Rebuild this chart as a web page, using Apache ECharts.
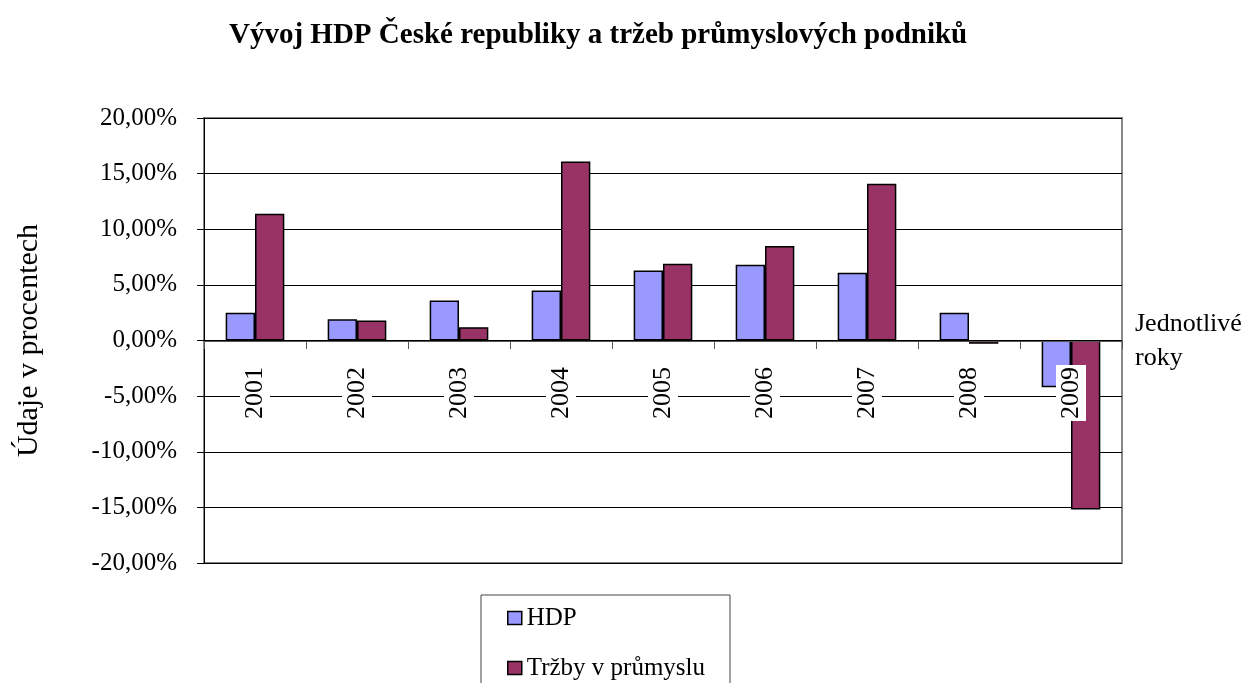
<!DOCTYPE html>
<html>
<head>
<meta charset="utf-8">
<script src="https://cdn.jsdelivr.net/npm/echarts@6/dist/echarts.min.js"></script>
<style>
  html, body { margin: 0; padding: 0; background: #fff; }
  #chart { width: 1257px; height: 683px; }
</style>
</head>
<body>
<div id="chart"></div>
<script>
var roky = ['2001', '2002', '2003', '2004', '2005', '2006', '2007', '2008', '2009'];
var hdp = [2.5, 1.9, 3.6, 4.5, 6.3, 6.8, 6.1, 2.5, -4.2];
var trzby = [11.4, 1.8, 1.2, 16.1, 6.9, 8.5, 14.1, -0.3, -15.2];

var font = '"Liberation Serif", "Times New Roman", serif';

function procenta(v) {
    return v.toFixed(2).replace('.', ',') + '%';
}

var myChart = echarts.init(document.getElementById('chart'));
myChart.setOption({
    animation: false,
    title: {
        text: 'Vývoj HDP České republiky a tržeb průmyslových podniků',
        left: 224,
        top: 16,
        textStyle: { fontFamily: font, fontSize: 29, fontWeight: 'bold', color: '#000' }
    },
    legend: {
        orient: 'vertical',
        left: 481,
        top: 595,
        height: 110,
        itemWidth: 14,
        itemHeight: 13,
        itemGap: 24,
        padding: [10, 25, 20, 26],
        borderColor: '#444',
        borderWidth: 1,
        icon: 'rect',
        itemStyle: { borderColor: '#000', borderWidth: 1.5 },
        textStyle: { fontFamily: font, fontSize: 25, lineHeight: 26, color: '#000' },
        data: ['HDP', 'Tržby v průmyslu']
    },
    grid: {
        left: 204,
        right: 135,
        top: 118,
        bottom: 120,
        show: true,
        borderColor: '#888',
        borderWidth: 2
    },
    xAxis: {
        type: 'category',
        data: roky,
        z: 5,
        position: 'bottom',
        offset: -222,
        name: 'Jednotlivé\nroky',
        nameLocation: 'end',
        nameGap: 13,
        nameTextStyle: {
            fontFamily: font, fontSize: 26, lineHeight: 34, color: '#000',
            align: 'left', verticalAlign: 'middle', padding: [16, 0, 0, 0]
        },
        axisLine: { onZero: false, lineStyle: { color: '#555', width: 1 } },
        axisTick: { show: true, length: 8, lineStyle: { color: '#555' } },
        axisLabel: {
            rotate: 90,
            margin: 24,
            fontFamily: font,
            fontSize: 26,
            color: '#000',
            backgroundColor: '#fff',
            padding: [2, 2, 2, 2]
        }
    },
    yAxis: {
        type: 'value',
        min: -20,
        max: 20,
        interval: 5,
        name: 'Údaje v procentech',
        nameLocation: 'middle',
        nameRotate: 90,
        nameGap: 160,
        nameTextStyle: { fontFamily: font, fontSize: 30, color: '#000' },
        axisLine: { show: true, lineStyle: { color: '#000' } },
        axisTick: { show: true, length: 7, lineStyle: { color: '#000' } },
        axisLabel: {
            margin: 27,
            fontFamily: font,
            fontSize: 25,
            color: '#000',
            formatter: procenta
        },
        splitLine: { show: true, lineStyle: { color: '#000', width: 1 } }
    },
    series: [
        {
            name: 'HDP',
            type: 'bar',
            data: hdp,
            barGap: '0%',
            barCategoryGap: '42.5%',
            itemStyle: { color: '#9999FF', borderColor: '#000', borderWidth: 1.5 }
        },
        {
            name: 'Tržby v průmyslu',
            type: 'bar',
            data: trzby,
            itemStyle: { color: '#993366', borderColor: '#000', borderWidth: 1.5 }
        }
    ]
});
</script>
</body>
</html>
